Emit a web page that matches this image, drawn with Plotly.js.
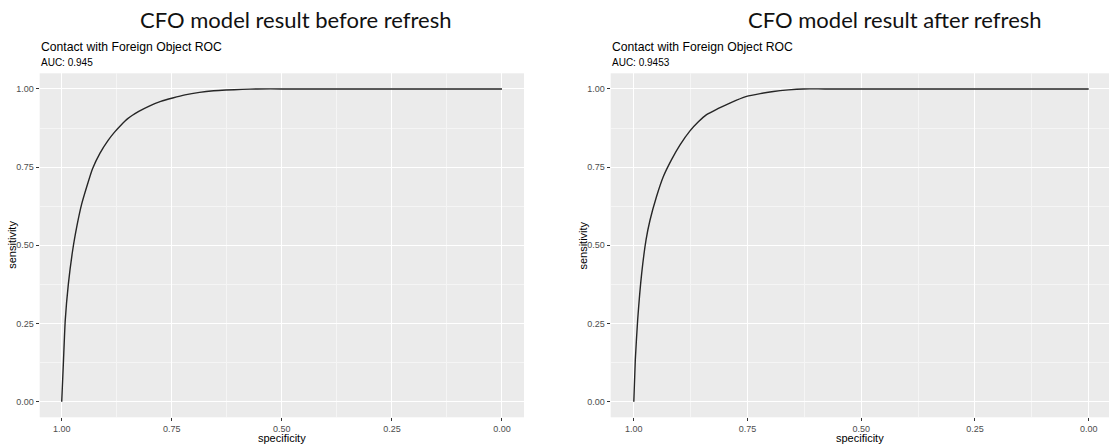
<!DOCTYPE html>
<html>
<head>
<meta charset="utf-8">
<script src="https://cdn.plot.ly/plotly-3.0.1.min.js"></script>
<style>
  html, body { margin: 0; padding: 0; background: #ffffff; }
  #chart { width: 1109px; height: 444px; }
</style>
</head>
<body>
<div id="chart"></div>
<script>
// ---- data ----
const pageTitles = ["CFO model result before refresh", "CFO model result after refresh"];
const plotTitle = "Contact with Foreign Object ROC";
const aucLabels = ["AUC: 0.945", "AUC: 0.9453"];
const xLabel = "specificity";
const yLabel = "sensitivity";
const tickVals = [0, 0.25, 0.5, 0.75, 1];
const tickText = ["0.00", "0.25", "0.50", "0.75", "1.00"];

const specBefore = [1.00, 0.996, 0.992, 0.985, 0.975, 0.965, 0.955, 0.943, 0.930, 0.913, 0.895, 0.880, 0.865, 0.850, 0.825, 0.800, 0.775, 0.748, 0.720, 0.687, 0.655, 0.627, 0.590, 0.555, 0.500, 0.000];
const sensBefore = [0.000, 0.130, 0.260, 0.375, 0.485, 0.565, 0.630, 0.688, 0.745, 0.795, 0.835, 0.862, 0.885, 0.905, 0.928, 0.946, 0.960, 0.971, 0.981, 0.989, 0.994, 0.9965, 0.9985, 1.000, 1.000, 1.000];

const specAfter = [1.00, 0.9967, 0.9915, 0.9826, 0.973, 0.9644, 0.950, 0.935, 0.917, 0.898, 0.8765, 0.858, 0.840, 0.818, 0.796, 0.774, 0.752, 0.722, 0.693, 0.660, 0.6275, 0.580, 0.000];
const sensAfter = [0.000, 0.133, 0.261, 0.411, 0.518, 0.580, 0.656, 0.720, 0.774, 0.822, 0.866, 0.895, 0.918, 0.935, 0.950, 0.964, 0.976, 0.985, 0.992, 0.997, 1.000, 1.000, 1.000];

// ---- figure ----
const W = 1109, H = 444;
const px = v => v / W;
const py = v => 1 - v / H;

const lineStyle = { color: "#262626", width: 1.4, shape: "spline", smoothing: 0.5 };
const traces = [
  { x: specBefore, y: sensBefore, type: "scatter", mode: "lines", line: lineStyle, xaxis: "x", yaxis: "y", hoverinfo: "x+y" },
  { x: specAfter, y: sensAfter, type: "scatter", mode: "lines", line: lineStyle, xaxis: "x2", yaxis: "y2", hoverinfo: "x+y" }
];

const baseFont = "Liberation Sans, Arial, sans-serif";
function axisCommon(extra) {
  return Object.assign({
    tickmode: "array", tickvals: tickVals, ticktext: tickText,
    ticks: "outside", ticklen: 3, tickwidth: 1, tickcolor: "#333333",
    tickfont: { family: baseFont, size: 9, color: "#4d4d4d" },
    showgrid: true, gridcolor: "#ffffff", gridwidth: 1.1,
    minor: { tickmode: "array", tickvals: [0.125, 0.375, 0.625, 0.875], showgrid: true, gridcolor: "#f5f5f5", gridwidth: 0.6, ticks: "" },
    zeroline: false, showline: false, fixedrange: true
  }, extra);
}

const yDomain = [py(417.3), py(73.3)];
const xTitle = { text: xLabel, font: { family: baseFont, size: 11, color: "#000000" }, standoff: 2 };
const yTitleFont = { family: baseFont, size: 11, color: "#000000" };
const yMid = py((417.3 + 73.3) / 2);
const layout = {
  width: W, height: H,
  margin: { l: 0, r: 0, t: 0, b: 0 },
  paper_bgcolor: "#ffffff",
  plot_bgcolor: "#ebebeb",
  showlegend: false,
  font: { family: baseFont },
  xaxis: axisCommon({ domain: [px(39.7), px(524)], range: [1.05, -0.05], anchor: "y", title: xTitle }),
  yaxis: axisCommon({ domain: yDomain, range: [-0.05, 1.05], anchor: "x" }),
  xaxis2: axisCommon({ domain: [px(610.7), 1], range: [1 + 23.1 / 455, -(1109 - 1088.7) / 455], anchor: "y2", title: xTitle }),
  yaxis2: axisCommon({ domain: yDomain, range: [-0.05, 1.05], anchor: "x2" }),
  annotations: [
    { text: pageTitles[0], xref: "paper", yref: "paper", x: px(295), y: py(20), xanchor: "center", yanchor: "middle", showarrow: false,
      font: { family: "Lato, Carlito, Calibri, sans-serif", size: 22, color: "#111111" } },
    { text: pageTitles[1], xref: "paper", yref: "paper", x: px(895), y: py(20), xanchor: "center", yanchor: "middle", showarrow: false,
      font: { family: "Lato, Carlito, Calibri, sans-serif", size: 22, color: "#111111" } },
    { text: plotTitle, xref: "paper", yref: "paper", x: px(38.5), y: py(47), xanchor: "left", yanchor: "middle", showarrow: false,
      font: { family: baseFont, size: 12.2, color: "#000000" } },
    { text: aucLabels[0], xref: "paper", yref: "paper", x: px(38.5), y: py(62), xanchor: "left", yanchor: "middle", showarrow: false,
      font: { family: baseFont, size: 10, color: "#000000" } },
    { text: plotTitle, xref: "paper", yref: "paper", x: px(609.5), y: py(47), xanchor: "left", yanchor: "middle", showarrow: false,
      font: { family: baseFont, size: 12.2, color: "#000000" } },
    { text: aucLabels[1], xref: "paper", yref: "paper", x: px(609.5), y: py(62), xanchor: "left", yanchor: "middle", showarrow: false,
      font: { family: baseFont, size: 10, color: "#000000" } },
    { text: yLabel, xref: "paper", yref: "paper", x: px(12.5), y: yMid, xanchor: "center", yanchor: "middle", textangle: -90, showarrow: false,
      font: yTitleFont },
    { text: yLabel, xref: "paper", yref: "paper", x: px(583.3), y: yMid, xanchor: "center", yanchor: "middle", textangle: -90, showarrow: false,
      font: yTitleFont }
  ]
};

Plotly.newPlot("chart", traces, layout, { displayModeBar: false });
</script>
</body>
</html>
